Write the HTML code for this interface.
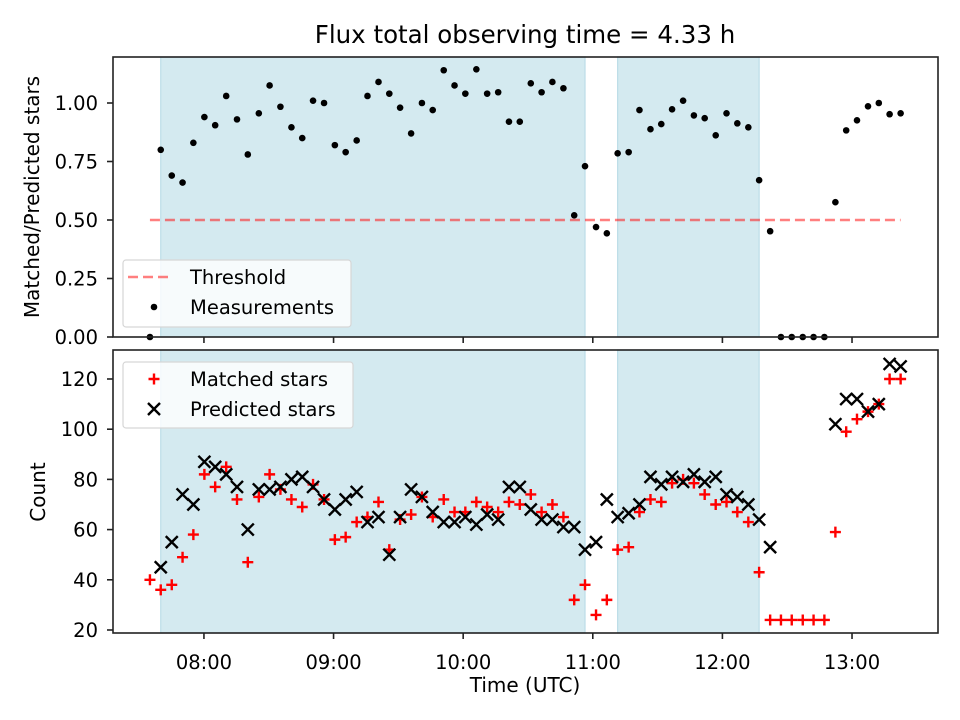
<!DOCTYPE html>
<html><head><meta charset="utf-8"><style>
html,body{margin:0;padding:0;background:#fff;}
svg{display:block;font-family:"DejaVu Sans","Liberation Sans",sans-serif;}
</style></head><body>
<svg id="chart" width="960" height="720" viewBox="0 0 960 720" xmlns="http://www.w3.org/2000/svg">
<rect width="960" height="720" fill="#fff"/>
<text x="525" y="43" text-anchor="middle" font-size="24.5">Flux total observing time = 4.33 h</text>
<text transform="translate(39,197) rotate(-90)" text-anchor="middle" font-size="20">Matched/Predicted stars</text>
<text transform="translate(45,492) rotate(-90)" text-anchor="middle" font-size="20">Count</text>
<text x="525" y="692" text-anchor="middle" font-size="20">Time (UTC)</text>
<g id="top"></g>
<g id="bot"></g>
</svg>
<script>
// times in minutes since midnight (UTC)
const times=[455.0,460.0,465.1,470.1,475.1,480.2,485.2,490.3,495.3,500.3,505.4,510.4,515.4,520.5,525.5,530.5,535.6,540.6,545.6,550.7,555.7,560.8,565.8,570.8,575.9,580.9,585.9,591.0,596.0,601.0,606.1,611.1,616.2,621.2,626.2,631.3,636.3,641.3,646.4,651.4,656.4,661.5,666.5,671.5,676.6,681.6,686.7,691.7,696.7,701.8,706.8,711.8,716.9,721.9,726.9,732.0,737.0,742.1,747.1,752.1,757.2,762.2,767.2,772.3,777.3,782.3,787.4,792.4,797.4,802.5];
const ratios=[0,0.80,0.69,0.66,0.83,0.94,0.905,1.03,0.93,0.78,0.956,1.075,0.984,0.896,0.85,1.01,1.00,0.82,0.79,0.84,1.03,1.09,1.04,0.98,0.87,1.00,0.97,1.14,1.075,1.04,1.144,1.04,1.046,0.92,0.92,1.084,1.046,1.09,1.063,0.52,0.73,0.47,0.443,0.785,0.79,0.97,0.888,0.91,0.973,1.01,0.947,0.935,0.862,0.956,0.913,0.896,0.67,0.452,0,0,0,0,0,0.576,0.883,0.926,0.986,1.00,0.952,0.956];
const matched=[40,36,38,49,58,82,77,85,72,47,73,82,76,72,69,78,72,56,57,63,65,71,52,64,66,73,65,72,67,67,71,69,67,71,70,74,67,70,65,32,38,26,32,52,53,67,72,71,78.5,80,78.5,74,70,71,67,63,43,24,24,24,24,24,24,59,99,104,107,110,120,120];
const predicted=[null,45,55,74,70,87,85,82,77,60,76,76,77,80,81,77,72,68,72,75,63,65,50,65,76,73,67,63,63,65,62,66,64,77,77,68,64,64,61,61,52,55,72,65,66.5,70,81,78,81,79,82,79,81,74,73,70,64,53,null,null,null,null,null,102,112,112,107,110,126,125];
const spans=[[460.0,656.4],[671.5,737.0]];
const threshold=0.5;
const xTickVals=[480,540,600,660,720,780];
const xTickLabels=["08:00","09:00","10:00","11:00","12:00","13:00"];
const topTicks=[0,0.25,0.5,0.75,1.0];
const botTicks=[20,40,60,80,100,120];

const NS="http://www.w3.org/2000/svg";
const L=113,R=938;
const X0=437.9,X1=819.8;
const x=m=>L+(m-X0)/(X1-X0)*(R-L);
const T={top:57,bot:337,min:0,max:1.1966};
const B={top:350,bot:633,min:18.8,max:131.55};
const yT=v=>T.bot-(v-T.min)/(T.max-T.min)*(T.bot-T.top);
const yB=v=>B.bot-(v-B.min)/(B.max-B.min)*(B.bot-B.top);
function el(tag,attrs,parent,text){const e=document.createElementNS(NS,tag);for(const k in attrs)e.setAttribute(k,attrs[k]);if(text!==undefined)e.textContent=text;parent.appendChild(e);return e;}
const gT=document.getElementById('top'),gB=document.getElementById('bot');

function panel(g,P,yf,ticks,fmt,showX,nm){
  spans.forEach((s,i)=>{const r=el('rect',{x:x(s[0]),y:P.top,width:x(s[1])-x(s[0]),height:P.bot-P.top,fill:'#d4eaf0',stroke:'#bcdde8','stroke-width':1.2},g);
    
    });
  ticks.forEach(v=>{const yy=yf(v);
    const t=el('line',{x1:L-6,x2:L,y1:yy,y2:yy,stroke:'#222','stroke-width':1.6},g);
    
    
    const lb=el('text',{x:L-15,y:yy+7,'text-anchor':'end','font-size':19.5},g,fmt(v));
    
    });
  xTickVals.forEach((m,i)=>{const xx=x(m);
    const t=el('line',{x1:xx,x2:xx,y1:P.bot,y2:P.bot+6,stroke:'#222','stroke-width':1.6},g);
    
    
    if(showX){const lb=el('text',{x:xx,y:P.bot+36,'text-anchor':'middle','font-size':19.5},g,xTickLabels[i]);
      
      }});
}
panel(gT,T,yT,topTicks,v=>v.toFixed(2),false,'top');
panel(gB,B,yB,botTicks,v=>String(v),true,'bottom');

const th=el('line',{x1:x(times[0]),x2:x(times[times.length-1]),y1:yT(threshold),y2:yT(threshold),stroke:'rgba(255,0,0,0.5)','stroke-width':2.6,'stroke-dasharray':'10,5'},gT);


times.forEach((m,i)=>{const c=el('circle',{cx:x(m),cy:yT(ratios[i]),r:3.3,fill:'#000'},gT);
  
  });
function plus(cx,cy,g,col,s){return el('path',{d:`M${cx-s} ${cy}H${cx+s}M${cx} ${cy-s}V${cy+s}`,stroke:col,'stroke-width':2.4,fill:'none'},g);}
function cross(cx,cy,g,col,s){return el('path',{d:`M${cx-s} ${cy-s}L${cx+s} ${cy+s}M${cx-s} ${cy+s}L${cx+s} ${cy-s}`,stroke:col,'stroke-width':2.4,fill:'none'},g);}
times.forEach((m,i)=>{const p=plus(x(m),yB(matched[i]),gB,'#f00',5.5);
  
  });
times.forEach((m,i)=>{if(predicted[i]===null)return;const p=cross(x(m),yB(predicted[i]),gB,'#000',6);
  
  });

[[T,gT,'top'],[B,gB,'bottom']].forEach(([P,g,nm])=>{const f=el('rect',{x:L,y:P.top,width:R-L,height:P.bot-P.top,fill:'none',stroke:'#222','stroke-width':1.6},g);
  
  });

function legend(g,bx,by,w,h,items,nm){
  const lg=el('g',{},g);
  
  
  el('rect',{x:bx,y:by,width:w,height:h,rx:3,fill:'rgba(255,255,255,0.8)',stroke:'#d6d6d6','stroke-width':1.2},lg);
  items.forEach((it,i)=>{const cy=by+17+i*30;
    const ent=el('g',{},lg);
    
    
    it.draw(ent,bx+25,cy);
    el('text',{x:bx+67,y:cy+7,'font-size':19.5},ent,it.label);});
}
legend(gT,123,260,228,67,[
  {label:'Threshold',draw:(g,cx,cy)=>el('line',{x1:cx-20,x2:cx+20,y1:cy,y2:cy,stroke:'rgba(255,0,0,0.5)','stroke-width':2.6,'stroke-dasharray':'10,5'},g)},
  {label:'Measurements',draw:(g,cx,cy)=>el('circle',{cx:cx+6,cy:cy,r:3.3,fill:'#000'},g)}
],'top-legend');
legend(gB,123,362,230,66,[
  {label:'Matched stars',draw:(g,cx,cy)=>plus(cx+6,cy,g,'#f00',5.5)},
  {label:'Predicted stars',draw:(g,cx,cy)=>cross(cx+6,cy,g,'#000',6)}
],'bottom-legend');
</script>
</body></html>
